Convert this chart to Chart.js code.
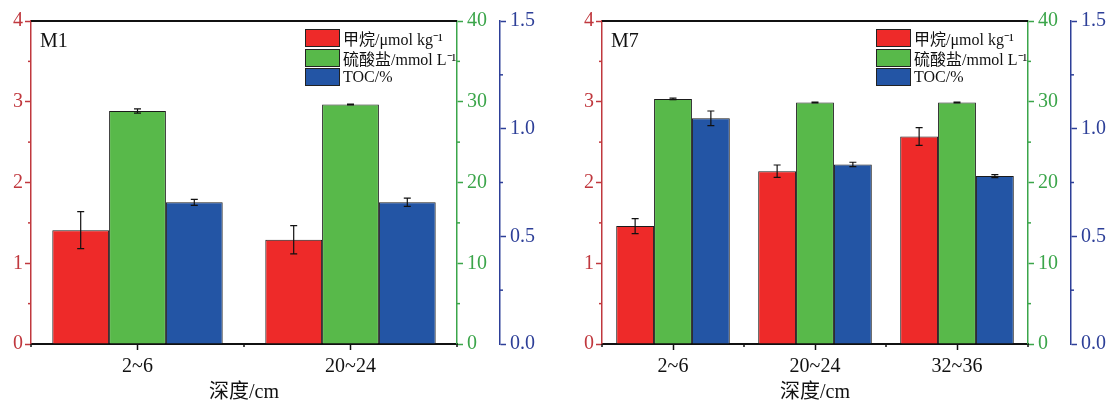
<!DOCTYPE html>
<html>
<head>
<meta charset="utf-8">
<script src="https://cdn.jsdelivr.net/npm/chart.js@4.4.1/dist/chart.umd.min.js"></script>
<style>
  body { margin: 0; width: 1109px; height: 405px; overflow: hidden; position: relative; background: #fff; }
  canvas { position: absolute; top: 0; }
  .legend { position: absolute; font-family: 'Liberation Serif', 'Noto Sans CJK SC', serif; font-size: 16px; color: #111; }
  .legend .row { display: flex; align-items: center; height: 19.5px; white-space: nowrap; }
  .legend .box { width: 33px; height: 16px; border: 1px solid #222; margin-right: 3px; }
  .tag { position: absolute; font-family: 'Liberation Serif', serif; font-size: 20px; line-height: 20px; color: #111; }
</style>
</head>
<body>
<canvas id="chartM1" width="571" height="405" style="left:0"></canvas>
<canvas id="chartM7" width="571" height="405" style="left:571px"></canvas>
<script>
// series names and colours
const seriesLabels = ["甲烷/μmol kg⁻¹", "硫酸盐/mmol L⁻¹", "TOC/%"];
const seriesColors = ["#ee2a29", "#58b94a", "#2355a5"];
const axisColors = ["#c0383e", "#3ba54a", "#2d3f98"];

// station M1
const depthM1 = ["2~6", "20~24"];
const methaneM1 = [1.41, 1.29];
const methaneErrM1 = [0.23, 0.175];
const sulfateM1 = [28.85, 29.65];
const sulfateErrM1 = [0.27, 0.05];
const tocM1 = [0.658, 0.658];
const tocErrM1 = [0.014, 0.019];

// station M7
const depthM7 = ["2~6", "20~24", "32~36"];
const methaneM7 = [1.46, 2.14, 2.57];
const methaneErrM7 = [0.093, 0.077, 0.11];
const sulfateM7 = [30.35, 29.9, 29.9];
const sulfateErrM7 = [0.1, 0.05, 0.05];
const tocM7 = [1.048, 0.834, 0.78];
const tocErrM7 = [0.034, 0.01, 0.007];

Chart.defaults.font.family = "'Liberation Serif', 'Noto Sans CJK SC', serif";

// error bars, frame top line and the short minor ticks
const extrasPlugin = {
    id: "extras",
    afterDatasetsDraw: function (chart) {
        const ctx = chart.ctx;
        ctx.save();
        ctx.strokeStyle = "#111";
        ctx.lineWidth = 1.2;
        chart.data.datasets.forEach(function (ds, i) {
            const meta = chart.getDatasetMeta(i);
            const scale = chart.scales[ds.yAxisID];
            meta.data.forEach(function (bar, j) {
                const v = ds.data[j], e = ds.errors[j];
                const yTop = scale.getPixelForValue(v + e);
                const yBot = scale.getPixelForValue(v - e);
                ctx.beginPath();
                ctx.moveTo(bar.x, yTop); ctx.lineTo(bar.x, yBot);
                ctx.moveTo(bar.x - 3.5, yTop); ctx.lineTo(bar.x + 3.5, yTop);
                ctx.moveTo(bar.x - 3.5, yBot); ctx.lineTo(bar.x + 3.5, yBot);
                ctx.stroke();
            });
        });
        ctx.restore();
    },
    afterDraw: function (chart) {
        const ctx = chart.ctx;
        const a = chart.chartArea;
        ctx.save();
        ctx.strokeStyle = "#111";
        ctx.lineWidth = 1.8;
        ctx.beginPath();
        ctx.moveTo(a.left, a.top);
        ctx.lineTo(a.right, a.top);
        ctx.stroke();

        function minor(scale, step, x0, x1, color) {
            ctx.strokeStyle = color;
            ctx.lineWidth = 1.5;
            for (let v = step / 2; v < scale.max; v += step) {
                const y = scale.getPixelForValue(v);
                ctx.beginPath(); ctx.moveTo(x0, y); ctx.lineTo(x1, y); ctx.stroke();
            }
        }
        const s = chart.scales;
        minor(s.y, 1, a.left - 3, a.left, axisColors[0]);
        minor(s.y1, 10, a.right, a.right + 3, axisColors[1]);
        minor(s.y2, 0.5, s.y2.left, s.y2.left + 3, axisColors[2]);

        const n = chart.data.labels.length;
        ctx.strokeStyle = "#111";
        for (let i = 0; i <= n; i++) {
            const x = a.left + (a.right - a.left) * i / n;
            ctx.beginPath(); ctx.moveTo(x, a.bottom); ctx.lineTo(x, a.bottom + 3); ctx.stroke();
        }
        ctx.restore();
    }
};

function yAxis(position, weight, max, step, color, width, digits) {
    return {
        position: position,
        weight: weight,
        min: 0,
        max: max,
        ticks: {
            stepSize: step,
            color: color,
            font: { size: 20 },
            padding: position === "left" ? 2 : 4,
            callback: function (v) { return v.toFixed(digits); },
        },
        grid: { drawOnChartArea: false, tickLength: 6, tickColor: color, tickWidth: 1.5 },
        border: { color: color, width: 1.5 },
        afterFit: function (scale) { scale.width = width; },
    };
}

function makeChart(canvasId, tag, labels, methane, methaneErr, sulfate, sulfateErr, toc, tocErr) {
    const canvas = document.getElementById(canvasId);
    const chart = new Chart(canvas, {
        type: "bar",
        data: {
            labels: labels,
            datasets: [
                { label: seriesLabels[0], data: methane, errors: methaneErr, yAxisID: "y", backgroundColor: seriesColors[0] },
                { label: seriesLabels[1], data: sulfate, errors: sulfateErr, yAxisID: "y1", backgroundColor: seriesColors[1] },
                { label: seriesLabels[2], data: toc, errors: tocErr, yAxisID: "y2", backgroundColor: seriesColors[2] },
            ],
        },
        options: {
            responsive: false,
            animation: false,
            layout: { padding: { left: 0, top: 21, right: 21, bottom: 0 } },
            datasets: {
                bar: {
                    categoryPercentage: 0.8,
                    barPercentage: 1.0,
                    borderWidth: 1,
                    borderColor: "#1b1b1b",
                },
            },
            plugins: {
                legend: { display: false },
                tooltip: { enabled: false },
            },
            scales: {
                x: {
                    offset: true,
                    grid: { drawOnChartArea: false, offset: false, tickLength: 6, tickColor: "#111", tickWidth: 1.5 },
                    border: { color: "#111", width: 2 },
                    ticks: { color: "#111", font: { size: 20 }, padding: 5 },
                    title: { display: true, text: "深度/cm", color: "#111", font: { size: 20 }, padding: 0 },
                    afterFit: function (scale) { scale.height = 61; },
                },
                y: yAxis("left", 0, 4, 1, axisColors[0], 31, 0),
                y1: yAxis("right", 0, 40, 10, axisColors[1], 43, 0),
                y2: yAxis("right", 1, 1.5, 0.5, axisColors[2], 50, 1),
            },
        },
        plugins: [extrasPlugin],
    });

    // html legend and panel tag placed inside the plot area
    const area = chart.chartArea;
    const offsetX = canvas.offsetLeft;
    const tagEl = document.createElement("div");
    tagEl.className = "tag";
    tagEl.textContent = tag;
    tagEl.style.left = (offsetX + area.left + 9) + "px";
    tagEl.style.top = (area.top + 9) + "px";
    document.body.appendChild(tagEl);

    const legend = document.createElement("div");
    legend.className = "legend";
    legend.style.left = (offsetX + area.left + 274) + "px";
    legend.style.top = (area.top + 7.5) + "px";
    chart.data.datasets.forEach(function (ds) {
        const row = document.createElement("div");
        row.className = "row";
        const box = document.createElement("span");
        box.className = "box";
        box.style.background = ds.backgroundColor;
        const text = document.createElement("span");
        text.textContent = ds.label;
        row.appendChild(box);
        row.appendChild(text);
        legend.appendChild(row);
    });
    document.body.appendChild(legend);
    return chart;
}

makeChart("chartM1", "M1", depthM1, methaneM1, methaneErrM1, sulfateM1, sulfateErrM1, tocM1, tocErrM1);
makeChart("chartM7", "M7", depthM7, methaneM7, methaneErrM7, sulfateM7, sulfateErrM7, tocM7, tocErrM7);
</script>
</body>
</html>
